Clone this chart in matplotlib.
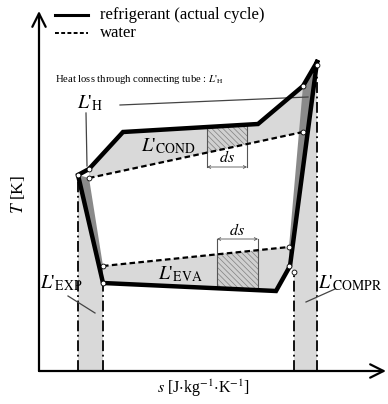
import numpy as np
import matplotlib
matplotlib.use("Agg")
import matplotlib.pyplot as plt
from matplotlib.patches import Polygon

plt.rcParams['font.family'] = ['Liberation Serif', 'DejaVu Serif']
plt.rcParams['mathtext.fontset'] = 'stix'
plt.rcParams['hatch.linewidth'] = 0.5

# schematic T-s cycle, arbitrary units (s to the right, T upward)
ref_s = [278, 264, 219, 84, 50, 39, 64, 237, 251, 278]
ref_T = [309, 285, 247, 239, 202, 196, 88, 80, 105, 309]

cond_water_s = [50, 264]
cond_water_T = [193, 239]
eva_water_s = [64, 250]
eva_water_T = [105, 124]

exp_band = [39, 64]      # expansion valve entropy band
compr_band = [255, 278]  # compressor entropy band

ds_cond = [168, 208]
ds_eva = [178, 219]

LIGHT = '#d9d9d9'
DARK = '#8a8a8a'


def lab(sub):
    return "$L$'$_{\\mathrm{" + sub + "}}$"


fig = plt.figure(figsize=(3.88, 4.04), dpi=100)
ax = fig.add_axes([0, 0, 1, 1])
ax.set_xlim(-39, 349)
ax.set_ylim(-33, 371)
ax.axis('off')

# light grey areas
cond_poly = [(ref_s[4], ref_T[4]), (ref_s[3], ref_T[3]), (ref_s[2], ref_T[2]), (ref_s[1], ref_T[1]),
             (cond_water_s[1], cond_water_T[1]), (cond_water_s[0], cond_water_T[0])]
eva_poly = [(eva_water_s[0], eva_water_T[0]), (eva_water_s[1], eva_water_T[1]),
            (ref_s[8], ref_T[8]), (ref_s[7], ref_T[7]), (ref_s[6], ref_T[6])]
left_band = [(ref_s[5], ref_T[5]), (ref_s[6], ref_T[6]), (exp_band[1], 0), (exp_band[0], 0)]
right_band = [(ref_s[0], ref_T[0]), (compr_band[1], 0), (compr_band[0], 0),
              (compr_band[0], 99), (ref_s[8], ref_T[8])]
for p in [cond_poly, eva_poly, left_band, right_band]:
    ax.add_patch(Polygon(p, closed=True, facecolor=LIGHT, edgecolor='none', zorder=1))

# dark grey strips (irreversibility of expansion / compression)
left_dark = [(ref_s[5], ref_T[5]), (cond_water_s[0], cond_water_T[0]),
             (eva_water_s[0], eva_water_T[0]), (ref_s[6], ref_T[6])]
right_dark = [(ref_s[1], ref_T[1]), (ref_s[0], ref_T[0]), (ref_s[8], ref_T[8]),
              (eva_water_s[1], eva_water_T[1])]
for p in [left_dark, right_dark]:
    ax.add_patch(Polygon(p, closed=True, facecolor=DARK, edgecolor='none', zorder=2))

# hatched ds strips
s1 = np.linspace(ds_cond[0], ds_cond[1], 20)
top1 = np.interp(s1, [ref_s[3], ref_s[2]], [ref_T[3], ref_T[2]])
bot1 = np.interp(s1, cond_water_s, cond_water_T)
ax.fill_between(s1, bot1, top1, facecolor='#d0d0d0', edgecolor='#808080', hatch='\\\\\\\\\\\\', lw=0, zorder=3)
s2 = np.linspace(ds_eva[0], ds_eva[1], 20)
top2 = np.interp(s2, eva_water_s, eva_water_T)
bot2 = np.interp(s2, [ref_s[6], ref_s[7]], [ref_T[6], ref_T[7]])
ax.fill_between(s2, bot2, top2, facecolor='#d0d0d0', edgecolor='#808080', hatch='\\\\\\\\\\\\', lw=0, zorder=3)

# ds markers
for x in ds_cond:
    ax.plot([x, x], [204, np.interp(x, [ref_s[3], ref_s[2]], [ref_T[3], ref_T[2]])], color='#555', lw=0.8, zorder=4)
ax.annotate('', xy=(ds_cond[0], 204), xytext=(ds_cond[1], 204),
            arrowprops=dict(arrowstyle='<->', lw=0.6, color='#555', shrinkA=0, shrinkB=0,
                            mutation_scale=5), zorder=4)
ax.text(188, 213, r'$ds$', ha='center', va='center', fontsize=11.5, zorder=5)
for x in ds_eva:
    ax.plot([x, x], [132, np.interp(x, [ref_s[6], ref_s[7]], [ref_T[6], ref_T[7]])], color='#555', lw=0.8, zorder=4)
ax.annotate('', xy=(ds_eva[0], 132), xytext=(ds_eva[1], 132),
            arrowprops=dict(arrowstyle='<->', lw=0.6, color='#555', shrinkA=0, shrinkB=0,
                            mutation_scale=5), zorder=4)
ax.text(198, 140, r'$ds$', ha='center', va='center', fontsize=11.5, zorder=5)

# dash-dot entropy limits
dd = dict(color='black', lw=1.3, linestyle=(0, (6, 2, 1, 2)), zorder=4)
ax.plot([exp_band[0]] * 2, [0, ref_T[5]], **dd)
ax.plot([exp_band[1]] * 2, [0, ref_T[6]], **dd)
ax.plot([compr_band[0]] * 2, [0, 99], **dd)
ax.plot([compr_band[1]] * 2, [0, 296], **dd)

# water lines
ax.plot(cond_water_s, cond_water_T, color='black', lw=1.6, linestyle=(0, (2.5, 1.5)), zorder=5)
ax.plot(eva_water_s, eva_water_T, color='black', lw=1.6, linestyle=(0, (2.5, 1.5)), zorder=5)

# refrigerant cycle
ax.plot(ref_s, ref_T, color='black', lw=3.2, solid_joinstyle='miter', zorder=6)

# state points
dots_s = [278, ref_s[1], ref_s[4], ref_s[5], ref_s[6], cond_water_s[0], cond_water_s[1],
          eva_water_s[0], eva_water_s[1], 250, compr_band[0]]
dots_T = [306, ref_T[1], ref_T[4], ref_T[5], ref_T[6], cond_water_T[0], cond_water_T[1],
          eva_water_T[0], eva_water_T[1], 105, 99]
ax.plot(dots_s, dots_T, 'o', ms=3.5, mfc='white', mec='black', mew=0.6, zorder=7)

# leader lines
ax.plot([81, 269], [266, 274], color='#444', lw=0.9, zorder=4)
ax.plot([47, 48], [258, 205], color='#444', lw=0.9, zorder=4)
ax.plot([29, 56], [75, 58], color='#444', lw=0.9, zorder=8)
ax.plot([296, 267], [82, 69], color='#444', lw=0.9, zorder=8)

# labels
ax.text(16, 291, "Heat loss through connecting tube : " + lab('H'), fontsize=7.7, va='center')
ax.text(51, 268, lab('H'), fontsize=14, ha='center', va='center')
ax.text(129, 225, lab('COND'), fontsize=14, ha='center', va='center', zorder=8)
ax.text(141, 97, lab('EVA'), fontsize=14, ha='center', va='center', zorder=8)
ax.text(22, 88, lab('EXP'), fontsize=14, ha='center', va='center', zorder=8)
ax.text(311, 88, lab('COMPR'), fontsize=14, ha='center', va='center', zorder=8)

# legend
ax.plot([16, 49], [356, 356], color='black', lw=2.2)
ax.text(61, 356, 'refrigerant (actual cycle)', fontsize=12, va='center')
ax.plot([16, 49], [338, 338], color='black', lw=1.4, linestyle=(0, (2, 1.2)))
ax.text(61, 338, 'water', fontsize=12, va='center')

# axes with arrows
ax.annotate('', xy=(347, 0), xytext=(0, 0),
            arrowprops=dict(arrowstyle='->', lw=1.6, color='black', shrinkA=0, shrinkB=0,
                            mutation_scale=24))
ax.annotate('', xy=(0, 360), xytext=(0, 0),
            arrowprops=dict(arrowstyle='->', lw=1.6, color='black', shrinkA=0, shrinkB=0,
                            mutation_scale=24))
ax.text(-21, 176, r'$T$ [K]', fontsize=12.5, rotation=90, ha='center', va='center')
ax.text(165, -17, r'$s$ [J$\cdot$kg$^{-1}$$\cdot$K$^{-1}$]', fontsize=11.5, ha='center', va='center')

fig.savefig('out.png', dpi=100)
